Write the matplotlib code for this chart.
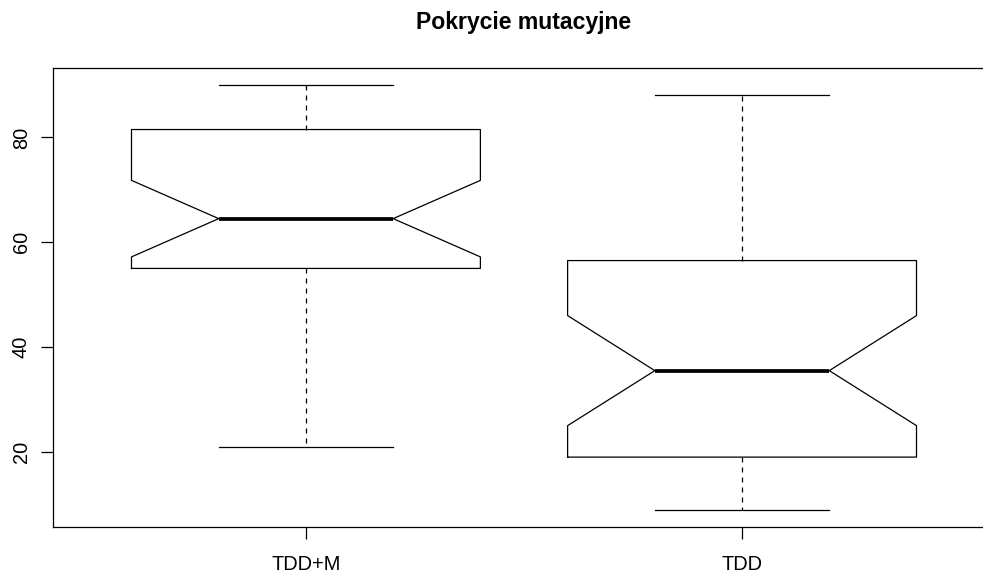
import matplotlib
matplotlib.use("Agg")
import matplotlib.pyplot as plt

# notched boxplot stats
groups = ["TDD+M", "TDD"]
whisker_low = [21, 9]
q1 = [55, 19]
medians = [64.5, 35.5]
q3 = [81.5, 56.5]
whisker_high = [90, 88]
notch_low = [57.2, 25]
notch_high = [71.8, 46]

yticks = [20, 40, 60, 80]

plt.rcParams["font.family"] = ["Liberation Sans", "DejaVu Sans"]

stats = []
for i, name in enumerate(groups):
    stats.append({
        "label": name,
        "whislo": whisker_low[i], "q1": q1[i], "med": medians[i],
        "q3": q3[i], "whishi": whisker_high[i],
        "cilo": notch_low[i], "cihi": notch_high[i], "fliers": [],
    })

fig = plt.figure(figsize=(8.2, 4.8), dpi=120)
# plot region runs past the right edge, as in the cropped original
ax = fig.add_axes([53 / 984, 1 - 526.5 / 576, 942 / 984, 458.5 / 576])

lw = 0.75
ax.bxp(stats, positions=[1, 2], widths=0.8, shownotches=True, showfliers=False,
       boxprops=dict(color="black", linewidth=lw),
       medianprops=dict(color="black", linewidth=2.25, solid_capstyle="butt"),
       whiskerprops=dict(color="black", linewidth=lw, linestyle=(0, (4, 4))),
       capprops=dict(color="black", linewidth=lw),
       capwidths=0.4)

ax.set_xlim(0.42, 2.58)
ax.set_ylim(5.76, 93.24)

ax.set_xticks([1, 2])
ax.set_xticklabels(groups)
ax.set_yticks(yticks)
ax.set_yticklabels([str(t) for t in yticks], rotation=90, va="center")
ax.tick_params(axis="x", length=7.2, width=lw, pad=9.6, labelsize=12)
ax.tick_params(axis="y", length=7.2, width=lw, pad=6, labelsize=12)
for s in ax.spines.values():
    s.set_linewidth(lw)

ax.set_title("Pokrycie mutacyjne", fontsize=13.8, fontweight="bold", pad=23.5)

fig.savefig("out.png", dpi=120)
